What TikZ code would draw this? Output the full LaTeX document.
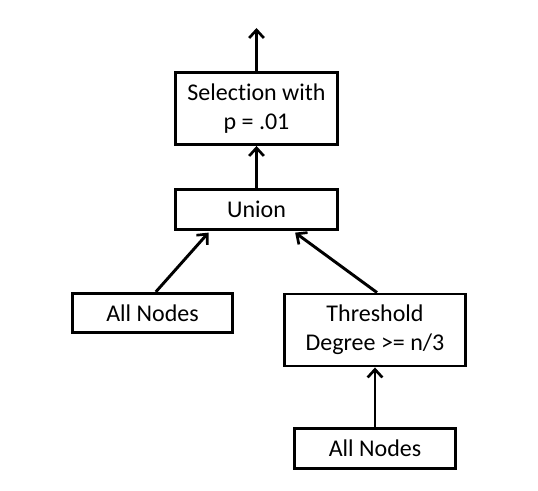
\documentclass[tikz,border=0pt]{standalone}
\usepackage{fontspec}
\setmainfont{Carlito}[Ligatures=NoCommon]
\usetikzlibrary{arrows.meta}

\tikzset{
  opbox/.style={draw, line width=2.2pt, align=center, inner sep=0pt,
    font=\fontsize{18}{21.5}\selectfont},
  flow/.style={line width=2.2pt, -{Straight Barb[length=6pt, width=11pt, line width=2pt]}}
}

\begin{document}
\begin{tikzpicture}[x=0.75pt, y=-0.75pt]
  \useasboundingbox (0, 0) rectangle (538, 491);

  % operators
  \node[opbox, minimum width=121pt, minimum height=54pt] (select) at (256.5, 108.5) {Selection with\\p = .01};
  \node[opbox, minimum width=121pt, minimum height=29.5pt] (union) at (256.5, 209.5) {Union};
  \node[opbox, minimum width=120pt, minimum height=29.5pt] (allleft) at (152.5, 313) {All Nodes};
  \node[opbox, minimum width=136pt, minimum height=54pt] (thresh) at (375, 330) {Threshold\\Degree >= n/3};
  \node[opbox, minimum width=121pt, minimum height=30pt] (allbottom) at (375, 448.5) {All Nodes};
  \coordinate (out) at (256.5, 28);

  % data flow
  \draw[flow] (select.north) -- (out);
  \draw[flow] (union.north) -- (select.south);
  \draw[flow] ([xshift=2.5pt]allleft.north) -- ([xshift=-36pt, yshift=-1.5pt]union.south);
  \draw[flow] ([xshift=1.5pt]thresh.north) -- ([xshift=29pt, yshift=-1.5pt]union.south);
  \draw[flow] (allbottom.north) -- (thresh.south);
\end{tikzpicture}
\end{document}
